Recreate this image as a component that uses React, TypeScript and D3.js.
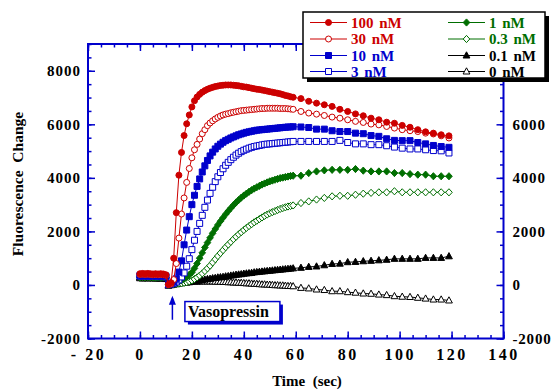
import { useEffect, useRef } from 'react';
import * as d3 from 'd3';

// time (sec): 1 s sampling up to 59 s, then every 3 s
const times = [
  0, 1, 2, 3, 4, 5, 6, 7, 8, 9,
  10, 11, 12, 13, 14, 15, 16, 17, 18, 19,
  20, 21, 22, 23, 24, 25, 26, 27, 28, 29,
  30, 31, 32, 33, 34, 35, 36, 37, 38, 39,
  40, 41, 42, 43, 44, 45, 46, 47, 48, 49,
  50, 51, 52, 53, 54, 55, 56, 57, 58, 59,
  62, 65, 68, 71, 74, 77, 80, 83, 86, 89,
  92, 95, 98, 101, 104, 107, 110, 113, 116, 119,
];

const nM100 = [
  420, 430, 420, 430, 420, 410, 420, 410, 420, 410,
  380, 20, 80, 1000, 2700, 4100, 4950, 5580, 6020, 6350,
  6650, 6880, 7020, 7120, 7200, 7260, 7310, 7350, 7380, 7410,
  7430, 7450, 7460, 7470, 7470, 7470, 7460, 7450, 7440, 7420,
  7400, 7390, 7370, 7350, 7330, 7310, 7300, 7280, 7260, 7240,
  7220, 7200, 7180, 7160, 7140, 7110, 7080, 7060, 7030, 7010,
  6960, 6860, 6790, 6730, 6670, 6560, 6480, 6390, 6320, 6230,
  6170, 6080, 6040, 5960, 5890, 5800, 5720, 5670, 5610, 5570,
];

const nM30 = [
  390, 400, 390, 400, 390, 380, 390, 380, 390, 380,
  360, 10, 40, 200, 800, 1750, 2650, 3250, 3830, 4350,
  4750, 5050, 5250, 5450, 5650, 5800, 5950, 6050, 6130, 6200,
  6260, 6310, 6350, 6380, 6400, 6430, 6450, 6470, 6490, 6510,
  6520, 6530, 6540, 6550, 6560, 6570, 6580, 6590, 6590, 6600,
  6600, 6600, 6600, 6600, 6590, 6590, 6590, 6580, 6570, 6560,
  6480, 6420, 6380, 6330, 6270, 6230, 6170, 6110, 6070, 6010,
  5980, 5920, 5860, 5800, 5760, 5730, 5670, 5640, 5570, 5490,
];

const nM10 = [
  360, 350, 360, 350, 360, 350, 350, 340, 350, 340,
  330, 20, 50, 110, 230, 480, 900, 1500, 2050, 2550,
  3000, 3350, 3680, 3960, 4220, 4450, 4650, 4820, 4960, 5080,
  5180, 5260, 5330, 5390, 5440, 5490, 5530, 5570, 5610, 5640,
  5670, 5700, 5720, 5740, 5760, 5780, 5790, 5800, 5810, 5820,
  5830, 5840, 5850, 5860, 5870, 5880, 5890, 5900, 5900, 5910,
  5900, 5880, 5820, 5820, 5760, 5730, 5730, 5670, 5650, 5580,
  5550, 5460, 5400, 5390, 5390, 5320, 5270, 5210, 5170, 5140,
];

const nM3 = [
  330, 320, 330, 320, 330, 320, 320, 310, 320, 310,
  300, 10, 30, 60, 110, 190, 300, 450, 700, 980,
  1320, 1670, 2000, 2300, 2600, 2900, 3170, 3420, 3650, 3860,
  4040, 4200, 4340, 4470, 4580, 4680, 4770, 4850, 4920, 4980,
  5030, 5070, 5110, 5140, 5170, 5190, 5210, 5230, 5250, 5260,
  5270, 5280, 5290, 5300, 5310, 5320, 5330, 5340, 5350, 5360,
  5360, 5360, 5360, 5360, 5360, 5400, 5320, 5270, 5270, 5240,
  5240, 5200, 5150, 5110, 5080, 5080, 5050, 5020, 5010, 4930,
];

const nM1 = [
  300, 310, 300, 310, 300, 300, 290, 300, 290, 300,
  280, 10, 30, 50, 80, 120, 170, 230, 300, 380,
  470, 620, 800, 1000, 1200, 1400, 1580, 1760, 1930, 2090,
  2240, 2380, 2510, 2640, 2760, 2870, 2980, 3080, 3170, 3260,
  3340, 3410, 3480, 3540, 3600, 3650, 3700, 3750, 3790, 3830,
  3870, 3900, 3930, 3960, 3990, 4010, 4030, 4050, 4070, 4080,
  4080, 4180, 4240, 4280, 4300, 4300, 4300, 4330, 4270, 4240,
  4240, 4240, 4180, 4180, 4140, 4120, 4120, 4060, 4060, 4060,
];

const nM03 = [
  280, 290, 280, 290, 280, 280, 270, 280, 270, 280,
  260, 0, 20, 30, 40, 50, 60, 80, 100, 130,
  170, 220, 280, 350, 430, 520, 620, 720, 840, 960,
  1080, 1190, 1300, 1410, 1510, 1610, 1710, 1800, 1890, 1970,
  2050, 2130, 2200, 2270, 2340, 2400, 2460, 2520, 2580, 2630,
  2680, 2720, 2760, 2800, 2840, 2870, 2900, 2930, 2950, 2970,
  3060, 3120, 3190, 3250, 3310, 3330, 3330, 3370, 3410, 3440,
  3460, 3460, 3500, 3460, 3460, 3460, 3460, 3460, 3460, 3460,
];

const nM01 = [
  280, 270, 280, 270, 280, 270, 270, 260, 270, 260,
  250, -10, 0, 20, 40, 60, 70, 90, 100, 110,
  130, 140, 150, 170, 180, 200, 220, 230, 250, 260,
  280, 290, 300, 320, 330, 350, 360, 380, 390, 400,
  420, 430, 440, 450, 470, 480, 490, 500, 510, 520,
  530, 540, 550, 560, 570, 580, 590, 600, 610, 620,
  640, 675, 690, 735, 785, 795, 850, 860, 885, 900,
  920, 940, 975, 975, 975, 975, 1010, 1010, 1010, 1070,
];

const nM0 = [
  250, 240, 250, 240, 250, 240, 240, 230, 240, 230,
  220, -30, -10, 10, 30, 50, 70, 80, 90, 100,
  110, 120, 120, 130, 130, 130, 130, 130, 130, 120,
  120, 120, 110, 110, 100, 100, 90, 90, 80, 80,
  70, 60, 60, 50, 40, 40, 30, 20, 20, 10,
  10, 0, -10, -10, -20, -20, -30, -40, -40, -50,
  -110, -130, -170, -190, -235, -235, -270, -290, -320, -330,
  -360, -380, -420, -440, -450, -480, -510, -545, -545, -580,
];

const seriesLabels = ['100 nM', '30 nM', '10 nM', '3 nM', '1 nM', '0.3 nM', '0.1 nM', '0 nM'];
const seriesValues = [nM100, nM30, nM10, nM3, nM1, nM03, nM01, nM0];

const xTicks = [-20, 0, 20, 40, 60, 80, 100, 120, 140];
const yTicks = [-2000, 0, 2000, 4000, 6000, 8000];
// right-hand labels: 8000 sits under the legend in the original
const yTicksRight = [-2000, 0, 2000, 4000, 6000];
const vasopressinTime = 12.5;

const RED = '#cc0000';
const BLUE = '#0000cc';
const GREEN = '#006e00';
const BLACK = '#000000';
const colors = [RED, RED, BLUE, BLUE, GREEN, GREEN, BLACK, BLACK];
const shapes = ['circle', 'circle', 'square', 'square', 'diamond', 'diamond', 'triangle', 'triangle'];
const filled = [true, false, true, false, true, false, true, false];

const FONT = '"Liberation Serif", "Times New Roman", serif';

const shapePath: Record<string, string> = {
  square: 'M-3,-3H3V3H-3Z',
  diamond: 'M0,-3.6L3.3,0L0,3.6L-3.3,0Z',
  triangle: 'M0,-3.7L3.4,2.5L-3.4,2.5Z',
};

function marker(g: any, i: number, cx: number, cy: number) {
  const fill = filled[i] ? colors[i] : '#fff';
  const m = shapes[i] === 'circle'
    ? g.append('circle').attr('cx', cx).attr('cy', cy).attr('r', 3)
    : g.append('path').attr('d', shapePath[shapes[i]]).attr('transform', `translate(${cx},${cy})`);
  m.attr('fill', fill).attr('stroke', colors[i]).attr('stroke-width', 1);
}

export default function App() {
  const svgRef = useRef<SVGSVGElement>(null);

  useEffect(() => {
    if (!svgRef.current) return;
    const svg = d3.select(svgRef.current);
    svg.selectAll('*').remove();

    const x = d3.scaleLinear().domain([-20, 140]).range([88, 503.5]);
    const y = d3.scaleLinear().domain([-2000, 9000]).range([338.5, 44]);

    const styleAxis = (g: any, size: number, spacing: number) => {
      g.select('.domain').remove();
      g.selectAll('line').attr('stroke', BLUE).attr('stroke-width', 1.5);
      g.selectAll('text')
        .attr('font-family', FONT)
        .attr('font-weight', 'bold')
        .attr('font-size', size)
        .attr('letter-spacing', spacing)
        .attr('fill', '#000');
    };

    const minorX = d3.range(-20, 141, 5);
    const minorY = d3.range(-2000, 9001, 500);
    const plain = (d: any) => String(d);

    // minor ticks, all four sides
    svg.append('g').attr('transform', `translate(0,${y(-2000)})`)
      .call(d3.axisBottom(x).tickValues(minorX).tickSize(-3.5).tickSizeOuter(0).tickFormat(() => ''))
      .call((g: any) => styleAxis(g, 15, 0));
    svg.append('g').attr('transform', `translate(0,${y(9000)})`)
      .call(d3.axisTop(x).tickValues(minorX).tickSize(-3.5).tickSizeOuter(0).tickFormat(() => ''))
      .call((g: any) => styleAxis(g, 15, 0));
    svg.append('g').attr('transform', `translate(${x(-20)},0)`)
      .call(d3.axisLeft(y).tickValues(minorY).tickSize(-3.5).tickSizeOuter(0).tickFormat(() => ''))
      .call((g: any) => styleAxis(g, 15, 0));
    svg.append('g').attr('transform', `translate(${x(140)},0)`)
      .call(d3.axisRight(y).tickValues(minorY).tickSize(-3.5).tickSizeOuter(0).tickFormat(() => ''))
      .call((g: any) => styleAxis(g, 15, 0));

    // major ticks + labels
    svg.append('g').attr('transform', `translate(0,${y(-2000)})`)
      .call(d3.axisBottom(x).tickValues(xTicks).tickSize(-7).tickSizeOuter(0).tickPadding(10)
        .tickFormat((d: any) => (d < 0 ? '- ' + String(-d) : String(d))))
      .call((g: any) => styleAxis(g, 16, 2.5));
    svg.append('g').attr('transform', `translate(0,${y(9000)})`)
      .call(d3.axisTop(x).tickValues(xTicks).tickSize(-7).tickSizeOuter(0).tickFormat(() => ''))
      .call((g: any) => styleAxis(g, 16, 0));
    svg.append('g').attr('transform', `translate(${x(-20)},0)`)
      .call(d3.axisLeft(y).tickValues(yTicks).tickSize(-7).tickSizeOuter(0).tickPadding(7).tickFormat(plain))
      .call((g: any) => styleAxis(g, 15, 1));
    svg.append('g').attr('transform', `translate(${x(140)},0)`)
      .call(d3.axisLeft(y).tickValues(yTicks).tickSize(7).tickSizeOuter(0).tickFormat(() => ''))
      .call((g: any) => styleAxis(g, 15, 0));
    svg.append('g').attr('transform', `translate(${x(140)},0)`)
      .call(d3.axisRight(y).tickValues(yTicksRight).tickSize(0).tickSizeOuter(0).tickPadding(9).tickFormat(plain))
      .call((g: any) => styleAxis(g, 15, 0.8));

    // frame
    svg.append('rect')
      .attr('x', x(-20)).attr('y', y(9000))
      .attr('width', x(140) - x(-20)).attr('height', y(-2000) - y(9000))
      .attr('fill', 'none').attr('stroke', BLUE).attr('stroke-width', 2);

    // series (0 nM first, 100 nM on top)
    const line = d3.line<number>().x((_, i) => x(times[i])).y((d) => y(d));
    for (let s = seriesValues.length - 1; s >= 0; s--) {
      const g = svg.append('g');
      g.append('path').datum(seriesValues[s]).attr('d', line)
        .attr('fill', 'none').attr('stroke', colors[s]).attr('stroke-width', 1);
      seriesValues[s].forEach((v, i) => marker(g, s, x(times[i]), y(v)));
    }

    // vasopressin arrow + label
    const ax = x(vasopressinTime);
    svg.append('line')
      .attr('x1', ax).attr('x2', ax).attr('y1', y(-1300)).attr('y2', y(-500))
      .attr('stroke', BLUE).attr('stroke-width', 1.5);
    svg.append('path')
      .attr('d', `M${ax},${y(-400)}L${ax - 3.5},${y(-400) + 9}L${ax + 3.5},${y(-400) + 9}Z`)
      .attr('fill', BLUE);
    const bx = ax + 12.5;
    const by = y(-620);
    svg.append('rect').attr('x', bx + 3).attr('y', by + 3).attr('width', 95).attr('height', 20).attr('fill', BLUE);
    svg.append('rect').attr('x', bx).attr('y', by).attr('width', 95).attr('height', 20)
      .attr('fill', '#fff').attr('stroke', BLUE).attr('stroke-width', 1.5);
    svg.append('text').attr('x', bx + 3).attr('y', by + 15.5)
      .attr('font-family', FONT).attr('font-weight', 'bold').attr('font-size', 16)
      .text('Vasopressin');

    // axis titles
    svg.append('text').attr('x', 307).attr('y', 386).attr('text-anchor', 'middle')
      .attr('font-family', FONT).attr('font-weight', 'bold').attr('font-size', 15)
      .style('white-space', 'pre').text('Time  (sec)');
    svg.append('text').attr('transform', 'translate(23,184) rotate(-90)').attr('text-anchor', 'middle')
      .attr('font-family', FONT).attr('font-weight', 'bold').attr('font-size', 15.5)
      .style('white-space', 'pre').text('Fluorescence  Change');

    // legend
    const lg = svg.append('g');
    lg.append('rect').attr('x', 307).attr('y', 16).attr('width', 242).attr('height', 66).attr('fill', '#000');
    lg.append('rect').attr('x', 303).attr('y', 12).attr('width', 242).attr('height', 66)
      .attr('fill', '#fff').attr('stroke', '#000').attr('stroke-width', 1.5);
    const rowY = [22.5, 39, 55.5, 71.5];
    seriesLabels.forEach((label, i) => {
      const col = i < 4 ? 0 : 1;
      const row = i % 4;
      const x0 = col === 0 ? 310 : 448;
      const yy = rowY[row];
      lg.append('line').attr('x1', x0).attr('x2', x0 + 37).attr('y1', yy).attr('y2', yy)
        .attr('stroke', colors[i]).attr('stroke-width', 1);
      marker(lg, i, x0 + 18.5, yy);
      lg.append('text').attr('x', x0 + 41).attr('y', yy + 5)
        .attr('font-family', FONT).attr('font-weight', 'bold').attr('font-size', 15)
        .attr('word-spacing', 2)
        .attr('fill', colors[i]).text(label);
    });
  }, []);

  return (
    <svg
      ref={svgRef}
      width={557}
      height={390}
      style={{ position: 'absolute', left: 0, top: 0, background: '#fff' }}
    />
  );
}
